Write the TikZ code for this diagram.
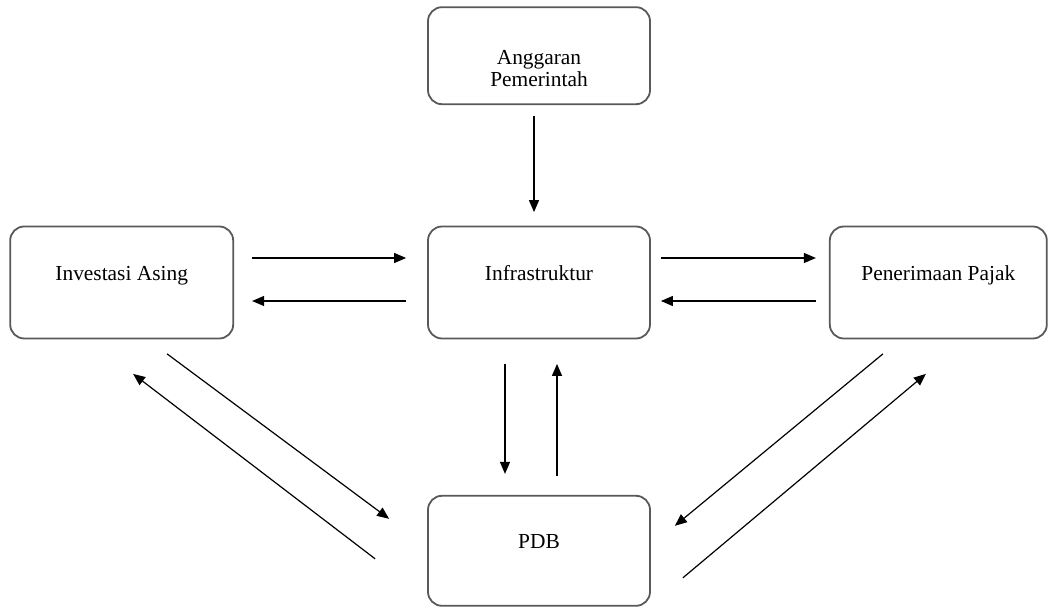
\documentclass[tikz,border=0pt]{standalone}
\usepackage{fontspec}
\setmainfont{Liberation Serif}
\usetikzlibrary{positioning,arrows.meta}

\tikzset{
	box/.style={draw=black!65, line width=0.9pt, rounded corners=7pt, minimum width=111pt, minimum height=56pt, inner sep=0pt, font=\fontsize{10.7}{13}\selectfont},
	box line/.style={box, text height=8pt, text depth=10pt},
	arr/.style={-{Triangle[length=6pt,width=5pt]}, line width=0.6pt}
}

\begin{document}
\begin{tikzpicture}[x=0.5pt,y=-0.5pt]
	\useasboundingbox (0,0) rectangle (1048,608);
	\node[box line] (infra) at (539,282.5) {Infrastruktur};
	\node[box, above=60.25pt of infra, minimum height=48.5pt, align=center, font=\fontsize{10.7}{11}\selectfont] (anggaran) {\rule{0pt}{19.5pt}Anggaran\\Pemerintah};
	\node[box line, left=96.5pt of infra, minimum width=111.5pt] (investasi) {Investasi Asing};
	\node[box line, right=89pt of infra, minimum width=108.5pt] (pajak) {Penerimaan Pajak};
	\node[box line, below=77.75pt of infra, minimum height=55pt] (pdb) {PDB};

	\draw[arr] ([shift={(-5,11)}]anggaran.south) -- ([shift={(-5,-13.5)}]infra.north);
	\draw[arr] ([shift={(18,-24.5)}]investasi.east) -- ([shift={(-21,-24.5)}]infra.west);
	\draw[arr] ([shift={(-21,18.5)}]infra.west) -- ([shift={(18,18.5)}]investasi.east);
	\draw[arr] ([shift={(10,-24.5)}]infra.east) -- ([shift={(-13,-24.5)}]pajak.west);
	\draw[arr] ([shift={(-13,18.5)}]pajak.west) -- ([shift={(10,18.5)}]infra.east);
	\draw[arr] ([shift={(-34,24.5)}]infra.south) -- ([shift={(-34,-21)}]pdb.north);
	\draw[arr] ([shift={(18,-19)}]pdb.north) -- ([shift={(18,24.5)}]infra.south);
	\draw[arr] ([shift={(-67,14.5)}]investasi.south east) -- ([shift={(-38,-32)}]pdb.west);
	\draw[arr] ([shift={(-52,8)}]pdb.west) -- ([shift={(-101,34.5)}]investasi.south east);
	\draw[arr] ([shift={(54,14.5)}]pajak.south west) -- ([shift={(24,-25)}]pdb.east);
	\draw[arr] ([shift={(32,27)}]pdb.east) -- ([shift={(97,34.5)}]pajak.south west);
\end{tikzpicture}
\end{document}
